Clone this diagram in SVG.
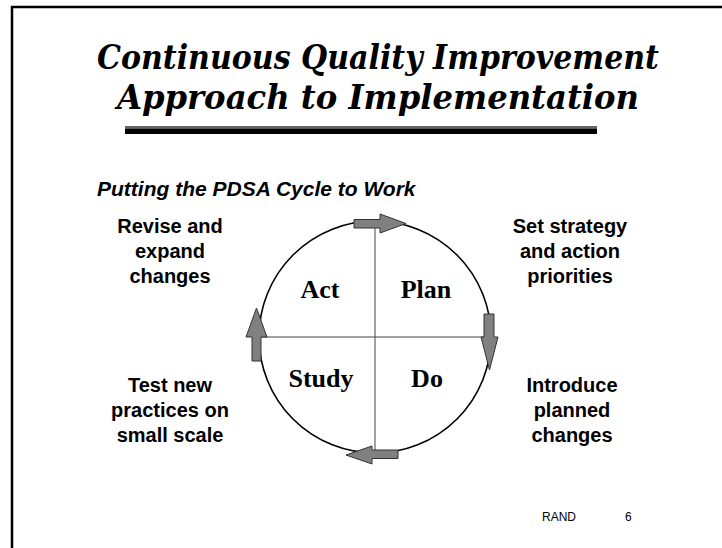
<svg xmlns="http://www.w3.org/2000/svg" width="722" height="548" viewBox="0 0 722 548">
<style>
.title{font-family:"DejaVu Serif","Liberation Serif",serif;font-weight:bold;font-style:italic;font-size:33px;fill:#000;text-anchor:middle}
.sub{font-family:"Liberation Sans",Arial,sans-serif;font-weight:bold;font-style:italic;font-size:21px;fill:#000}
.lbl{font-family:"Liberation Sans",Arial,sans-serif;font-weight:bold;font-size:20px;fill:#000;text-anchor:middle}
.q{font-family:"Liberation Serif","Times New Roman",serif;font-weight:bold;font-size:26px;fill:#000;text-anchor:middle}
.foot{font-family:"Liberation Sans",Arial,sans-serif;font-size:12px;fill:#000}
.arr{fill:#808080;stroke:#333;stroke-width:1}
.axis{stroke:#444;stroke-width:1;fill:none}
.ring{stroke:#000;stroke-width:1.6;fill:none}
</style>
<rect width="722" height="548" fill="#fff"/>
<path d="M12,548 V7 H722" fill="none" stroke="#000" stroke-width="2.5"/>
<g id="title">
<text class="title" x="378" y="69" textLength="562" lengthAdjust="spacingAndGlyphs">Continuous Quality Improvement</text>
<text class="title" x="378" y="109" textLength="522" lengthAdjust="spacingAndGlyphs">Approach to Implementation</text>
<rect x="125" y="126" width="472" height="2.5" fill="#666"/>
<rect x="125" y="128.5" width="472" height="5.5" fill="#000"/>
</g>
<g id="subtitle"><text class="sub" x="97" y="196">Putting the PDSA Cycle to Work</text></g>
<g id="connectors">
<circle class="ring" cx="375" cy="337" r="116"/>
<line class="axis" x1="375" y1="224" x2="375" y2="454"/>
<line class="axis" x1="261" y1="337" x2="484" y2="337"/>
<path class="arr" d="M354,219.5 H380 V214 L406,223.5 L380,233 V228 H354 Z"/>
<path class="arr" d="M484,314 H494 V337 H498 L489.5,370 L481,337 H484 Z"/>
<path class="arr" d="M398,450 V458.5 H372 V464 L346,455 L372,446 V450 Z"/>
<path class="arr" d="M252,361 V337 H246 L256.5,308 L267,337 H261 V361 Z"/>
</g>
<g id="act"><text class="q" x="320" y="298">Act</text></g>
<g id="plan"><text class="q" x="426" y="298">Plan</text></g>
<g id="study"><text class="q" x="321" y="387">Study</text></g>
<g id="do"><text class="q" x="427" y="387">Do</text></g>
<g id="revise"><text class="lbl" x="170" y="233">Revise and</text><text class="lbl" x="170" y="258">expand</text><text class="lbl" x="170" y="283">changes</text></g>
<g id="set"><text class="lbl" x="570" y="233">Set strategy</text><text class="lbl" x="570" y="258">and action</text><text class="lbl" x="570" y="283">priorities</text></g>
<g id="test"><text class="lbl" x="170" y="392">Test new</text><text class="lbl" x="170" y="417">practices on</text><text class="lbl" x="170" y="442">small scale</text></g>
<g id="introduce"><text class="lbl" x="572" y="392">Introduce</text><text class="lbl" x="572" y="417">planned</text><text class="lbl" x="572" y="442">changes</text></g>
<g id="footer"><text class="foot" x="542" y="521">RAND</text><text class="foot" x="625" y="521">6</text></g>
</svg>
